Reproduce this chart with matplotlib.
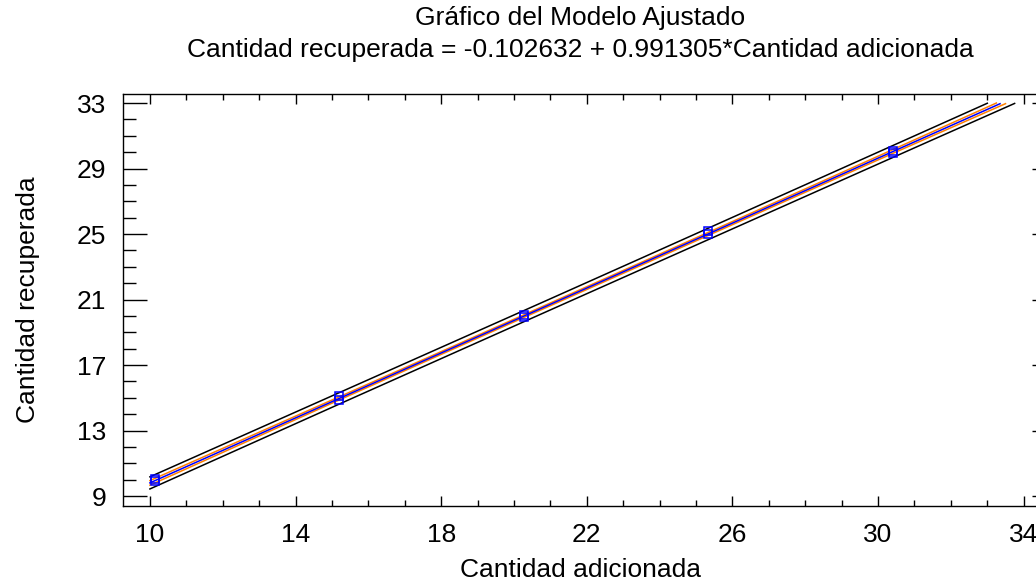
import numpy as np
import matplotlib.pyplot as plt
from matplotlib.ticker import MultipleLocator

cant_adicionada = [10.13, 10.13, 15.2, 15.2, 20.27, 20.27, 25.33, 25.33, 30.4, 30.4]
cant_recuperada = [9.92, 10.02, 14.88, 15.1, 19.92, 20.06, 24.98, 25.2, 29.92, 30.08]

# fitted line and limits, read at a few x positions
fit_x = [10, 14, 18, 22, 26, 30, 34]
fit_y = [9.81, 13.78, 17.74, 21.70, 25.67, 29.64, 33.60]
pred_half = [0.37, 0.35, 0.34, 0.34, 0.35, 0.36, 0.38]   # black (prediction limits)
conf_half = [0.14, 0.10, 0.08, 0.08, 0.09, 0.11, 0.15]   # orange (confidence limits)

xticks = [10, 14, 18, 22, 26, 30, 34]
yticks = [9, 13, 17, 21, 25, 29, 33]

plt.rcParams['font.family'] = ['Liberation Sans', 'DejaVu Sans']
FS = 19

fig = plt.figure(figsize=(10.36, 5.82), dpi=100)
ax = fig.add_axes([0.1187, 0.1306, 0.8828, 0.7079])

fx = np.array(fit_x)
fy = np.array(fit_y)
ph = np.array(pred_half)
ch = np.array(conf_half)

# lines stop where they reach the top tick (33)
def cut(y):
    return np.where(y <= 33, y, np.nan)

xx = np.linspace(10, 34, 481)
def interp(v):
    return np.interp(xx, fx, v)

ax.plot(xx, cut(interp(fy + ph)), color='black', lw=1.1)
ax.plot(xx, cut(interp(fy - ph)), color='black', lw=1.1)
ax.plot(xx, cut(interp(fy + ch)), color='#FF8000', lw=1.1)
ax.plot(xx, cut(interp(fy - ch)), color='#FF8000', lw=1.1)
ax.plot(xx, cut(interp(fy)), color='#0000FF', lw=1.1)

ax.plot(cant_adicionada, cant_recuperada, 's', ms=5.5, mfc='none', mec='#0000FF', mew=1.1)

ax.set_xlim(9.26, 34.38)
ax.set_ylim(8.4, 33.55)
ax.set_xticks(xticks)
ax.set_yticks(yticks)
ax.xaxis.set_minor_locator(MultipleLocator(1))
ax.yaxis.set_minor_locator(MultipleLocator(1))

ax.tick_params(axis='x', which='both', direction='in', top=True, bottom=True, labelsize=FS, pad=12)
ax.tick_params(axis='x', which='major', length=7, width=1)
ax.tick_params(axis='x', which='minor', length=4, width=1)
ax.tick_params(axis='y', which='both', direction='in', left=True, right=False, labelsize=FS, pad=12)
ax.tick_params(axis='y', which='major', length=17, width=1)
ax.tick_params(axis='y', which='minor', length=9, width=1)

# right side: short major ticks only
ax2 = ax.twinx()
ax2.set_ylim(ax.get_ylim())
ax2.set_yticks(yticks)
ax2.tick_params(axis='y', direction='in', length=4, width=1, labelright=False)
for sp in ax2.spines.values():
    sp.set_visible(False)

for sp in ax.spines.values():
    sp.set_linewidth(1.0)

fig.text(0.56, 0.969, 'Gráfico del Modelo Ajustado', ha='center', va='center', fontsize=FS)
fig.text(0.56, 0.914, 'Cantidad recuperada = -0.102632 + 0.991305*Cantidad adicionada',
         ha='center', va='center', fontsize=FS)
fig.text(0.56, 0.021, 'Cantidad adicionada', ha='center', va='center', fontsize=FS)
fig.text(0.027, 0.485, 'Cantidad recuperada', ha='center', va='center', rotation=90, fontsize=FS)

fig.savefig('out.png', dpi=100)
